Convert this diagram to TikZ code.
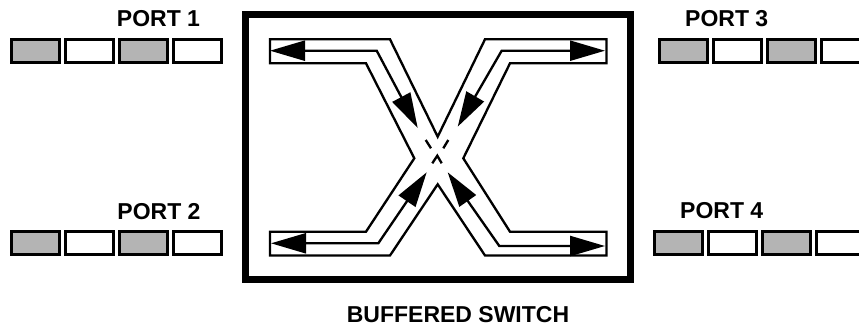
\documentclass[tikz,border=0pt]{standalone}
\usepackage{fontspec}
\setmainfont{Liberation Sans}
\usetikzlibrary{arrows.meta}
\definecolor{cellgray}{RGB}{180,180,180}
\tikzset{
  cell/.style={draw, line width=1.8pt, minimum width=28.8pt, minimum height=13.8pt, inner sep=0pt},
  lbl/.style={font=\bfseries\fontsize{13.8}{16}\selectfont, inner sep=0pt},
  pipe/.style={line width=1.4pt},
  flow/.style={line width=1.4pt, {Triangle[length=21pt,width=12pt]}-{Triangle[length=21pt,width=12pt]}},
}

\begin{document}
\begin{tikzpicture}[x=0.6pt, y=-0.6pt]
\useasboundingbox (0,0) rectangle (859,330);
\clip (0,0) rectangle (859,330);

% Port queues
\foreach \p/\x/\y in {1/35.5/51.3, 2/35.5/243, 3/683.5/51.3, 4/678/243} {
  \foreach \c/\f in {1/cellgray, 2/white, 3/cellgray, 4/white}
    \node[cell, fill=\f] (port\p-\c) at ({\x+54*(\c-1)},\y) {};
}
\node[lbl] (lbl1) at (158.5,18.7) {PORT 1};
\node[lbl] (lbl2) at (159,211.3) {PORT 2};
\node[lbl] (lbl3) at (726.7,18.7) {PORT 3};
\node[lbl] (lbl4) at (721.7,210.5) {PORT 4};

% Switch
\node[draw, line width=4.2pt, minimum width=231pt, minimum height=159pt, inner sep=0pt] (switch) at (437.5,147.5) {};
\node[lbl] (title) at (458,315) {BUFFERED SWITCH};

% Crossing channels
\draw[pipe, fill=white] (270,39.3) -- (390,39.3) -- (437.7,136.7) -- (485,39.3) -- (606.5,39.3)
  -- (606.5,63.3) -- (510,63.3) -- (463.3,158.3) -- (510,231.7) -- (606.5,231.7)
  -- (606.5,255.5) -- (485,255.5) -- (437.7,184.3) -- (390,255.5) -- (270,255.5)
  -- (270,231.7) -- (366,231.7) -- (414.3,158.3) -- (366,63.3) -- (270,63.3) -- cycle;

% Flows
\draw[flow] (270,50.7) -- (376.7,50.7) -- (417.7,128); % port 1
\draw[flow] (605,50.7) -- (501.7,50.7) -- (457.7,126.7); % port 3
\draw[flow] (271,243.3) -- (378.3,243.3) -- (426.7,172.3); % port 2
\draw[flow] (605,246) -- (499.3,246) -- (447.7,172.3); % port 4

% Dashes through the middle
\draw[pipe] (425.7,140) -- (431,148.3);
\draw[pipe] (448.3,140) -- (443.3,148.3);
\draw[pipe] (432.3,163.3) -- (437.3,155.7) -- (441.7,163.3);
\end{tikzpicture}
\end{document}
